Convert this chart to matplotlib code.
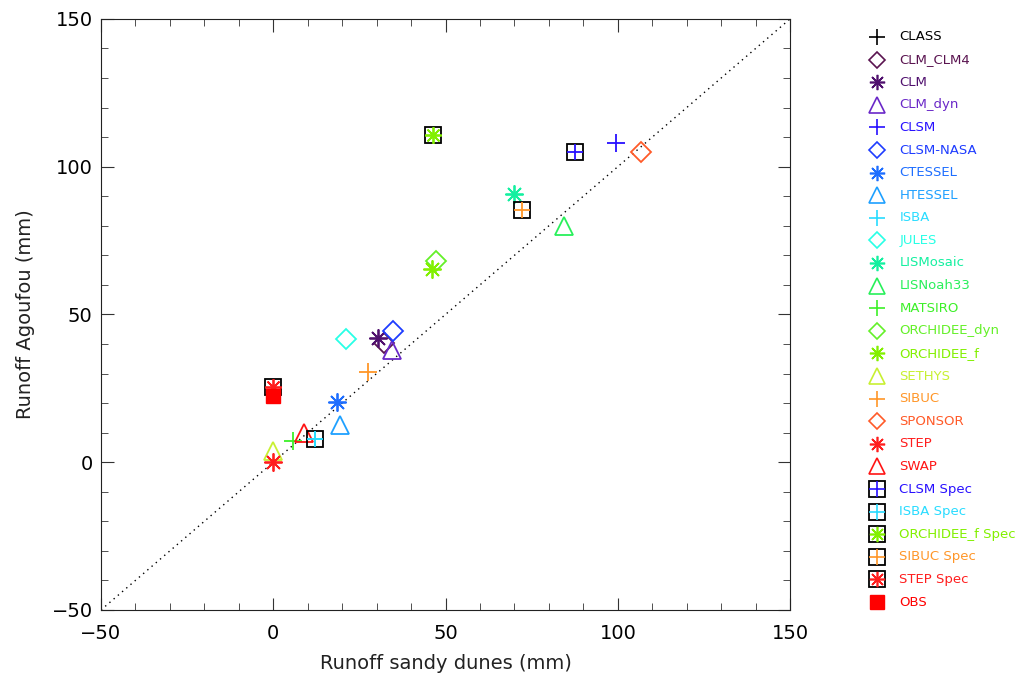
import numpy as np
import matplotlib.pyplot as plt
from matplotlib.ticker import MultipleLocator

# model names, colours, markers (legend order)
models = ["CLASS", "CLM_CLM4", "CLM", "CLM_dyn", "CLSM", "CLSM-NASA", "CTESSEL",
          "HTESSEL", "ISBA", "JULES", "LISMosaic", "LISNoah33", "MATSIRO",
          "ORCHIDEE_dyn", "ORCHIDEE_f", "SETHYS", "SIBUC", "SPONSOR", "STEP", "SWAP"]
colors = ["#000000", "#5a1450", "#50106e", "#6a28c8", "#2810ff", "#1e3cff", "#1e6eff",
          "#1ea0ff", "#28dcff", "#28ffe6", "#14f0a0", "#28f05a", "#3cf028",
          "#64f028", "#82f000", "#c8f032", "#ff9628", "#ff5a28", "#ff1e1e", "#ff1414"]
markers = ["+", "D", "*", "^", "+", "D", "*", "^", "+", "D", "*", "^", "+",
           "D", "*", "^", "+", "D", "*", "^"]

# runoff values (mm): sandy dunes (x), Agoufou (y); None = not shown
x_sandy = [None, 32.0, 30.5, 34.5, 99.6, 34.8, 18.4, 19.4, 12.0, 21.0, 70.0, 84.5, 5.6,
           47.1, 46.1, 0.0, 27.4, 106.6, 0.0, 8.8]
y_agoufou = [None, 40.3, 42.0, 38.0, 108.0, 44.3, 20.4, 12.5, 7.7, 41.6, 90.6, 80.0, 7.2,
             68.1, 65.5, 3.8, 30.6, 104.8, 0.0, 9.8]

# "Spec" runs
spec_names = ["CLSM Spec", "ISBA Spec", "ORCHIDEE_f Spec", "SIBUC Spec", "STEP Spec"]
spec_base = ["CLSM", "ISBA", "ORCHIDEE_f", "SIBUC", "STEP"]
spec_x = [87.6, 12.0, 46.3, 72.2, 0.0]
spec_y = [104.8, 7.7, 110.7, 85.3, 25.5]

# observation
obs_x = [0.0]
obs_y = [22.3]

plt.rcParams['font.family'] = ['DejaVu Sans']

ast = (8, 2, 0)


def mk(m):
    return ast if m == "*" else m


fig = plt.figure(figsize=(10.24, 6.74), dpi=100)
ax = fig.add_axes([0.0986, 0.095, 0.673, 0.877])

ax.plot([-50, 150], [-50, 150], color="black", linestyle=(0, (1, 3)), linewidth=1)

for name, c, m, xv, yv in zip(models, colors, markers, x_sandy, y_agoufou):
    if xv is None:
        continue
    ax.plot(xv, yv, marker=mk(m), markersize=13 if m != "D" else 10,
            markerfacecolor="none", markeredgecolor=c, markeredgewidth=1.3,
            linestyle="none")

for name, base, xv, yv in zip(spec_names, spec_base, spec_x, spec_y):
    i = models.index(base)
    ax.plot(xv, yv, marker="s", markersize=12, markerfacecolor="none",
            markeredgecolor="black", markeredgewidth=1.3, linestyle="none")
    ax.plot(xv, yv, marker=mk(markers[i]), markersize=12, markeredgecolor=colors[i],
            markeredgewidth=1.3, linestyle="none")

ax.plot(obs_x, obs_y, marker="s", markersize=10, color="red", linestyle="none")

ax.set_xlim(-50, 150)
ax.set_ylim(-50, 150)
ax.xaxis.set_major_locator(MultipleLocator(50))
ax.yaxis.set_major_locator(MultipleLocator(50))
ax.xaxis.set_minor_locator(MultipleLocator(10))
ax.yaxis.set_minor_locator(MultipleLocator(10))
ax.tick_params(which="both", direction="in", top=True, right=True, labelsize=14,
               color="#333333")
ax.tick_params(which="major", length=9)
ax.tick_params(which="minor", length=5)
ax.tick_params(axis="x", pad=10)
ax.tick_params(axis="y", pad=6)
for s in ax.spines.values():
    s.set_color("#222222")
ax.set_xlabel("Runoff sandy dunes (mm)", fontsize=14, labelpad=8, color="#222222")
ax.set_ylabel("Runoff Agoufou (mm)", fontsize=14, labelpad=12, color="#222222")

# legend drawn in its own axes
lax = fig.add_axes([0.84, 0.0, 0.16, 1.0])
lax.set_xlim(0, 1)
lax.set_ylim(674, 0)
lax.axis("off")
row0, step = 37, 22.6
labels = models + spec_names + ["OBS"]
for k, lab in enumerate(labels):
    yy = row0 + k * step
    if k < len(models):
        c, m = colors[k], markers[k]
        lax.plot(0.1, yy, marker=mk(m), markersize=11 if m != "D" else 8.5,
                 markerfacecolor="none", markeredgecolor=c, markeredgewidth=1.2,
                 linestyle="none")
    elif k < len(models) + len(spec_names):
        i = models.index(spec_base[k - len(models)])
        c = colors[i]
        lax.plot(0.1, yy, marker="s", markersize=11, markerfacecolor="none",
                 markeredgecolor="black", markeredgewidth=1.3, linestyle="none")
        lax.plot(0.1, yy, marker=mk(markers[i]), markersize=11, markeredgecolor=c,
                 markeredgewidth=1.2, linestyle="none")
    else:
        c = "red"
        lax.plot(0.1, yy, marker="s", markersize=10, color=c, linestyle="none")
    lax.text(0.24, yy, lab, color=c, fontsize=9.5, va="center", ha="left")

fig.savefig("out.png", dpi=100)
